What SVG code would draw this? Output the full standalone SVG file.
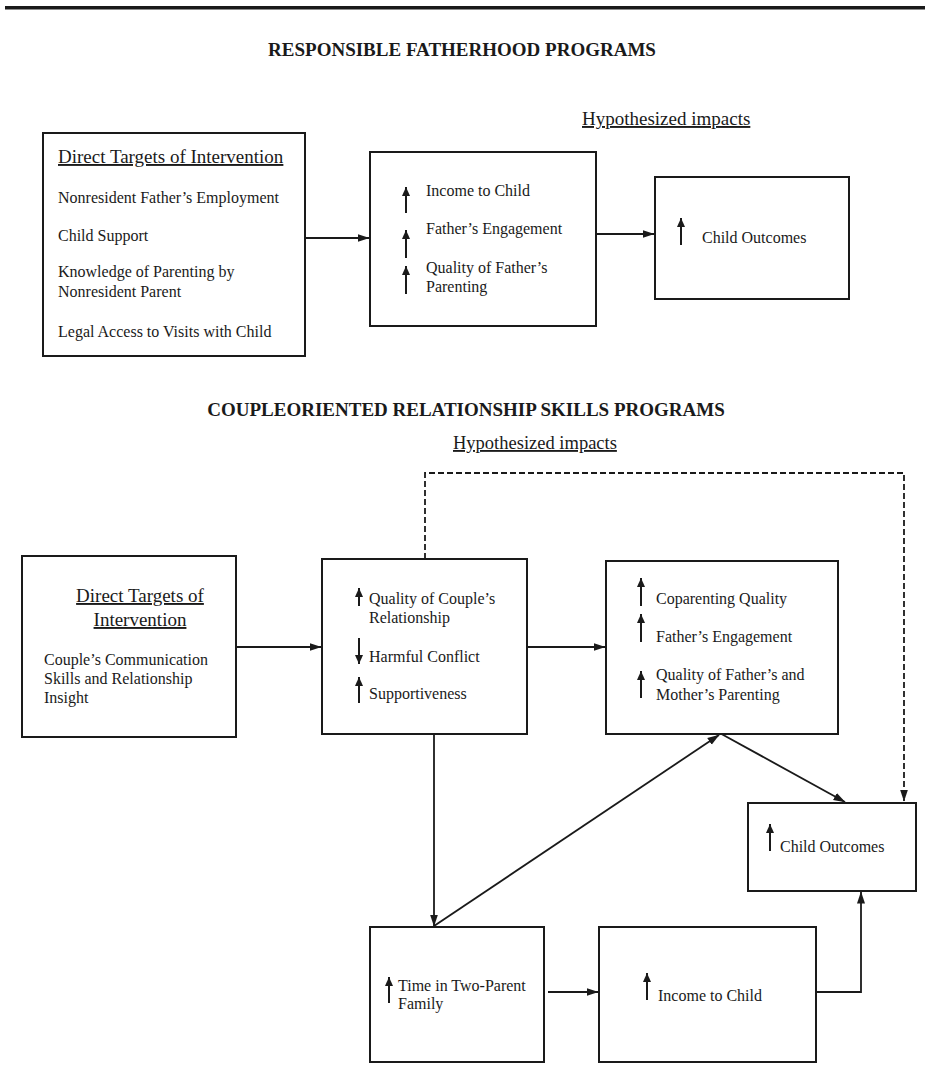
<svg xmlns="http://www.w3.org/2000/svg" width="925" height="1080" viewBox="0 0 925 1080">
<style>
text{font-family:"Liberation Serif","Times New Roman",serif;fill:#1a1a1a}
.t{font-size:19px;font-weight:bold}
.h{font-size:19px;text-decoration:underline}
.i{font-size:16px}
.box{fill:#fff;stroke:#1a1a1a;stroke-width:2}
.c{fill:none;stroke:#1a1a1a;stroke-width:1.8}
.d{fill:none;stroke:#1a1a1a;stroke-width:1.8;stroke-dasharray:6,3}
.s{fill:none;stroke:#1a1a1a;stroke-width:2}
</style>
<defs>
<marker id="ah" markerUnits="userSpaceOnUse" viewBox="0 0 12 10" markerWidth="12" markerHeight="10" refX="11.5" refY="5" orient="auto"><path d="M0,1 L12,5 L0,9 z" fill="#1a1a1a"/></marker>
<marker id="sa" markerUnits="userSpaceOnUse" viewBox="0 0 9 8" markerWidth="9" markerHeight="8" refX="9" refY="4" orient="auto"><path d="M0,0 L9,4 L0,8 z" fill="#1a1a1a"/></marker>
</defs>
<rect x="5" y="6" width="920" height="3.5" fill="#1a1a1a"/>
<g id="labels">
<text class="t" x="462" y="56" text-anchor="middle">RESPONSIBLE FATHERHOOD PROGRAMS</text>
<text class="h" x="582" y="125">Hypothesized impacts</text>
<text class="t" x="466" y="416" text-anchor="middle">COUPLEORIENTED RELATIONSHIP SKILLS PROGRAMS</text>
<text class="h" x="453" y="449" style="font-size:18.5px">Hypothesized impacts</text>
</g>
<g id="connectors">
<path class="c" d="M305,238 H369" marker-end="url(#ah)"/>
<path class="c" d="M596,234 H654" marker-end="url(#ah)"/>
<path class="c" d="M236,647 H321" marker-end="url(#ah)"/>
<path class="c" d="M527,647 H605" marker-end="url(#ah)"/>
<path class="d" d="M425,559 V473 H904 V801" marker-end="url(#ah)"/>
<path class="c" d="M721.5,734 L845,802" marker-end="url(#ah)"/>
<path class="c" d="M434,926 L719,735" marker-end="url(#ah)"/>
<path class="c" d="M434,734 V926" marker-end="url(#ah)"/>
<path class="c" d="M548,992 H598" marker-end="url(#ah)"/>
<path class="c" d="M816,992 H861 V892" marker-end="url(#ah)"/>
</g>
<g id="rf-targets">
<rect class="box" x="43" y="133" width="262" height="223"/>
<text class="h" x="58" y="163">Direct Targets of Intervention</text>
<text class="i" x="58" y="203">Nonresident Father’s Employment</text>
<text class="i" x="58" y="241">Child Support</text>
<text class="i" x="58" y="277">Knowledge of Parenting by</text>
<text class="i" x="58" y="297">Nonresident Parent</text>
<text class="i" x="58" y="337">Legal Access to Visits with Child</text>
</g>
<g id="rf-impacts">
<rect class="box" x="370" y="152" width="226" height="174"/>
<path class="s" d="M406,213 V187" marker-end="url(#sa)"/>
<path class="s" d="M406,258 V230" marker-end="url(#sa)"/>
<path class="s" d="M406,294 V266" marker-end="url(#sa)"/>
<text class="i" x="426" y="196">Income to Child</text>
<text class="i" x="426" y="234">Father’s Engagement</text>
<text class="i" x="426" y="273">Quality of Father’s</text>
<text class="i" x="426" y="292">Parenting</text>
</g>
<g id="rf-child">
<rect class="box" x="655" y="177" width="194" height="122"/>
<path class="s" d="M681,245 V218" marker-end="url(#sa)"/>
<text class="i" x="702" y="243">Child Outcomes</text>
</g>
<g id="cr-targets">
<rect class="box" x="22" y="556" width="214" height="181"/>
<text class="h" x="140" y="602" text-anchor="middle">Direct Targets of</text>
<text class="h" x="140" y="626" text-anchor="middle">Intervention</text>
<text class="i" x="44" y="665">Couple’s Communication</text>
<text class="i" x="44" y="684">Skills and Relationship</text>
<text class="i" x="44" y="703">Insight</text>
</g>
<g id="cr-relationship">
<rect class="box" x="322" y="559" width="205" height="175"/>
<path class="s" d="M359,606 V588" marker-end="url(#sa)"/>
<path class="s" d="M359,638 V664" marker-end="url(#sa)"/>
<path class="s" d="M359,703 V677" marker-end="url(#sa)"/>
<text class="i" x="369" y="604">Quality of Couple’s</text>
<text class="i" x="369" y="623">Relationship</text>
<text class="i" x="369" y="662">Harmful Conflict</text>
<text class="i" x="369" y="699">Supportiveness</text>
</g>
<g id="cr-parenting">
<rect class="box" x="606" y="561" width="232" height="173"/>
<path class="s" d="M641,606 V578" marker-end="url(#sa)"/>
<path class="s" d="M641,642 V614" marker-end="url(#sa)"/>
<path class="s" d="M641,698 V671" marker-end="url(#sa)"/>
<text class="i" x="656" y="604">Coparenting Quality</text>
<text class="i" x="656" y="642">Father’s Engagement</text>
<text class="i" x="656" y="680">Quality of Father’s and</text>
<text class="i" x="656" y="700">Mother’s Parenting</text>
</g>
<g id="cr-child">
<rect class="box" x="748" y="803" width="168" height="88"/>
<path class="s" d="M770,851 V824" marker-end="url(#sa)"/>
<text class="i" x="780" y="852">Child Outcomes</text>
</g>
<g id="cr-time">
<rect class="box" x="370" y="927" width="174" height="135"/>
<path class="s" d="M389,1003 V977" marker-end="url(#sa)"/>
<text class="i" x="398" y="991">Time in Two-Parent</text>
<text class="i" x="398" y="1009">Family</text>
</g>
<g id="cr-income">
<rect class="box" x="599" y="927" width="217" height="135"/>
<path class="s" d="M647,1000 V973" marker-end="url(#sa)"/>
<text class="i" x="658" y="1001">Income to Child</text>
</g>
</svg>
